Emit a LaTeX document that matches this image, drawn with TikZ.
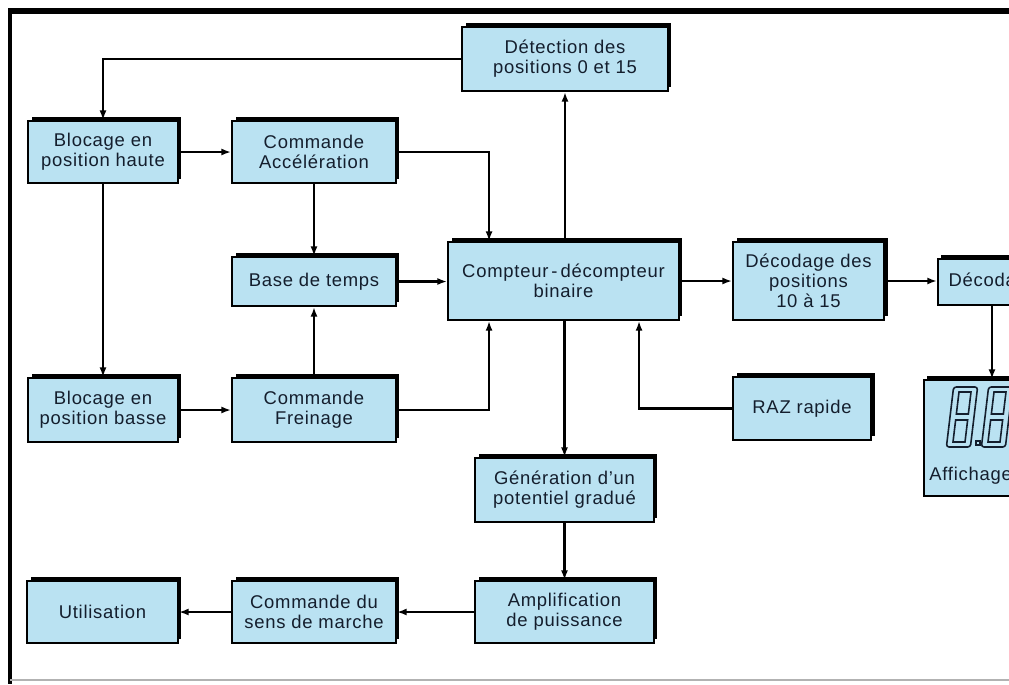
\documentclass[tikz,border=0pt]{standalone}
\usepackage{fontspec}
\setmainfont{Liberation Sans}[LetterSpace=4]
\usetikzlibrary{arrows.meta,shadows,calc}
\definecolor{boxblue}{RGB}{186,226,242}
\definecolor{inkc}{RGB}{20,30,45}
\tikzset{dim/.style 2 args={minimum width=#1*0.2mm, minimum height=#2*0.2mm}}

\begin{document}
\begin{tikzpicture}[x=0.02cm, y=-0.02cm, font=\fontsize{10.5}{11.3}\selectfont, text=inkc]
\tikzstyle{box}=[rectangle, draw=black, line width=1.1pt, fill=boxblue, align=center, inner sep=2pt, drop shadow={shadow xshift=2pt, shadow yshift=2.2pt, fill=black, opacity=1}]
\tikzstyle{fl}=[-{Latex[length=5.5pt,width=4pt]}, line width=1.2pt]
\useasboundingbox (0,0) rectangle (1009,684);
\clip (0,0) rectangle (1009,684);
% cadre
\draw[line width=3pt] (8,11) -- (1009,11);
\draw[line width=2pt] (10,9) -- (10,684);
\draw[gray!60, line width=0.8pt] (10,680) -- (1009,680);
% blocs
\node[box, dim={206}{64}] (det) at (565,59) {Détection des\\positions 0 et 15};
\node[box, dim={150}{62}] (bh) at (103,152) {Blocage en\\position haute};
\node[box, dim={164}{62}] (ca) at (314,152) {Commande\\Accélération};
\node[box, dim={164}{49}] (bt) at (314,281.5) {Base de temps};
\node[box, dim={231}{78}] (cpt) at (563.5,281) {Compteur\,-\,décompteur\\binaire};
\node[box, dim={151}{78}] (dp) at (808.5,281) {Décodage des\\positions\\10 à 15};
\node[box, dim={150}{46}, anchor=west, inner xsep=6pt] (dec) at (937,282) {Décodage\hspace*{40pt}};
\node[box, dim={138}{63}] (raz) at (802,408.5) {RAZ rapide};
\node[box, dim={150}{64}] (bb) at (103,410) {Blocage en\\position basse};
\node[box, dim={164}{64}] (cf) at (314,410) {Commande\\Freinage};
\node[box, dim={160}{116}, anchor=north west] (aff) at (923,379) {};
\node[box, dim={179}{64}] (gen) at (564.5,490) {Génération d'un\\potentiel gradué};
\node[box, dim={179}{62}] (amp) at (564.5,612) {Amplification\\de puissance};
\node[box, dim={164}{62}] (csm) at (314,612) {Commande du\\sens de marche};
\node[box, dim={151}{62}] (util) at (102.5,612) {Utilisation};
% afficheur
\foreach \cx in {962,997} {
  \begin{scope}[shift={(\cx,417)}, xslant=0.12]
    \draw[inkc, line width=0.9pt, rounded corners=1.5pt] (-12,-30) rectangle (12,30);
    \draw[inkc, line width=0.9pt] (-6,-25) rectangle (6,-3) (-6,3) rectangle (6,25);
  \end{scope}
}
\draw[inkc, line width=0.9pt] (976,441) rectangle (980,445);
\node[anchor=west, inner sep=0pt] (afftxt) at (929,476) {Affichage};
% liaisons
\draw[fl] (det.west) -| (bh.north);
\draw[fl] (bh.east) -- (ca.west);
\draw[fl] (ca.east) -| ($(cpt.north west)+(42,0)$);
\draw[fl] (ca.south) -- (bt.north);
\draw[fl] (bt.east) -- (bt.east -| cpt.west);
\draw[fl] (det.south |- cpt.north) -- (det.south);
\draw[fl] (bh.south) -- (bb.north);
\draw[fl] (bb.east) -- (cf.west);
\draw[fl] (cf.north) -- (bt.south);
\draw[fl] (cf.east) -| ($(cpt.south west)+(42,0)$);
\draw[fl] (raz.west) -| ($(cpt.south west)+(192,0)$);
\draw[fl] (cpt.south -| gen.north) -- (gen.north);
\draw[fl] (gen.south) -- (amp.north);
\draw[fl] (amp.west) -- (csm.east);
\draw[fl] (csm.west) -- (util.east);
\draw[fl] (cpt.east) -- (dp.west);
\draw[fl] (dp.east) -- (dp.east -| dec.west);
\draw[fl] ($(dec.south west)+(55,0)$) -- ($(aff.north west)+(69,0)$);
\end{tikzpicture}
\end{document}
